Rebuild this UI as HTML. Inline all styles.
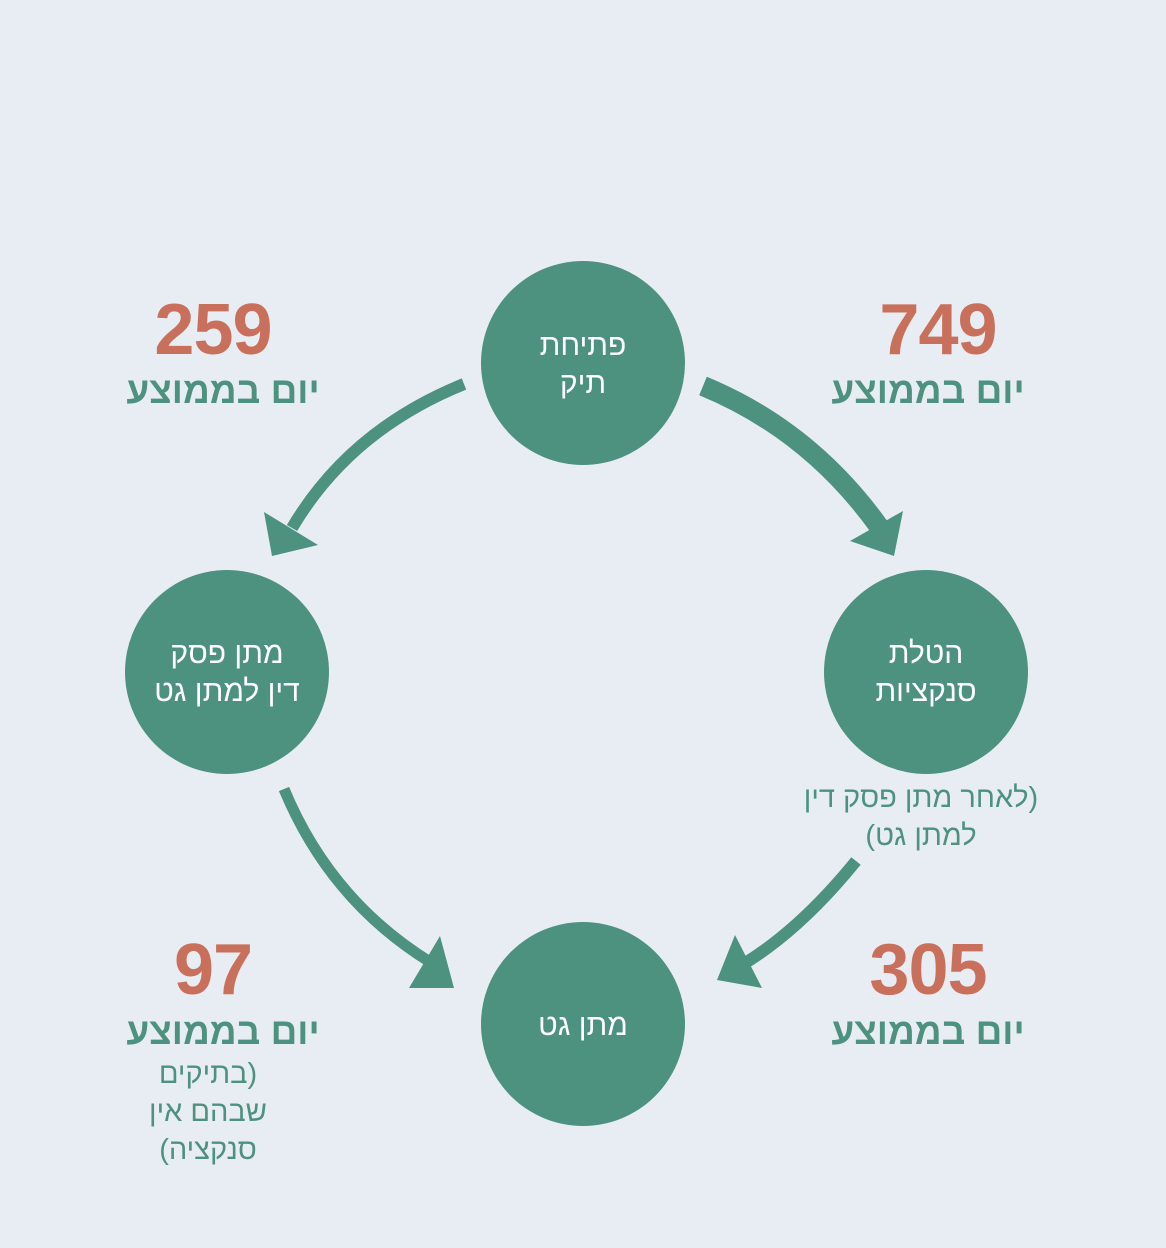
<!DOCTYPE html>
<html><head><meta charset="utf-8">
<style>
html,body{margin:0;padding:0}
body{width:1166px;height:1248px;background:#e8edf3;position:relative;overflow:hidden;font-family:"Liberation Sans","DejaVu Sans",sans-serif}
.t{position:absolute;text-align:center;direction:rtl;white-space:nowrap}
.num{color:#c8705c;font-weight:bold;font-size:72px;letter-spacing:-1px;line-height:1}
.yom{color:#4d917f;font-weight:bold;font-size:37px;line-height:1}
.c{color:#fff;font-size:30px;line-height:38px}
.s{color:#4d917f;font-size:29px;line-height:38px}
svg{position:absolute;left:0;top:0}
</style></head><body>
<svg width="1166" height="1248">
<g fill="#4d917f">
<circle cx="583" cy="363" r="102"/>
<circle cx="227" cy="672" r="102"/>
<circle cx="926" cy="672" r="102"/>
<circle cx="583" cy="1024" r="102"/>
</g>
<g fill="none" stroke="#4d917f" stroke-linecap="butt">
<path d="M464,384 Q350,430 292,528" stroke-width="12"/>
<path d="M703,386 Q810,430 880,528" stroke-width="20"/>
<path d="M284,789 Q330,900 430,962" stroke-width="11"/>
<path d="M856,861 Q800,930 742,965" stroke-width="12"/>
</g>
<g fill="#4d917f">
<polygon points="272,556 264,512 318,545"/>
<polygon points="894,556 850,541 903,511"/>
<polygon points="454,988 409,988 440,936"/>
<polygon points="717,980 735,935 762,988"/>
</g>
</svg>
<div class="t c" style="left:483px;width:200px;top:327px">פתיחת<br>תיק</div>
<div class="t c" style="left:127px;width:200px;top:635px">מתן פסק<br>דין למתן גט</div>
<div class="t c" style="left:826px;width:200px;top:635px">הטלת<br>סנקציות</div>
<div class="t c" style="left:483px;width:200px;top:1007px">מתן גט</div>

<div class="t num" style="left:113px;width:200px;top:294px">259</div>
<div class="t yom" style="left:113px;width:220px;top:372px">יום בממוצע</div>
<div class="t num" style="left:838px;width:200px;top:294px">749</div>
<div class="t yom" style="left:818px;width:220px;top:372px">יום בממוצע</div>
<div class="t num" style="left:113px;width:200px;top:934px">97</div>
<div class="t yom" style="left:113px;width:220px;top:1013px">יום בממוצע</div>
<div class="t num" style="left:828px;width:200px;top:934px">305</div>
<div class="t yom" style="left:818px;width:220px;top:1013px">יום בממוצע</div>

<div class="t s" style="left:771px;width:300px;top:779px">(לאחר מתן פסק דין<br>למתן גט)</div>
<div class="t s" style="left:108px;width:200px;top:1055px">(בתיקים<br>שבהם אין<br>סנקציה)</div>
</body></html>
